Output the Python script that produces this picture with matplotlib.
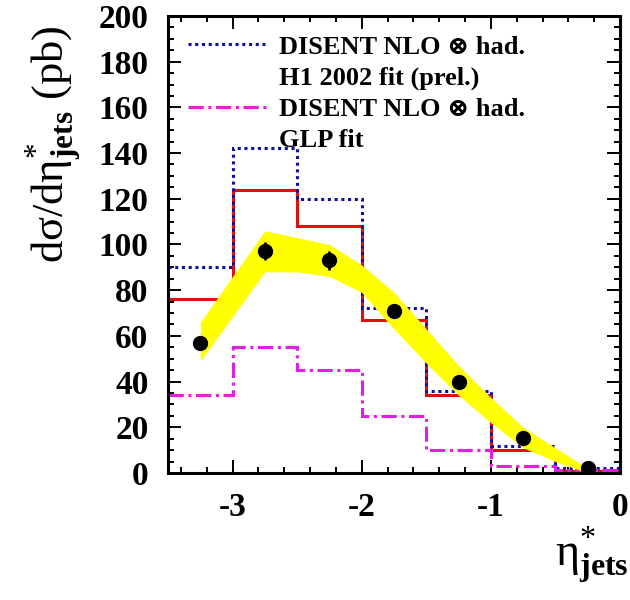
import numpy as np
import matplotlib
matplotlib.use('Agg')
import matplotlib.pyplot as plt
from matplotlib.lines import Line2D
from matplotlib.ticker import MultipleLocator

# ---------------- dados ----------------
bin_edges = [-3.5, -3.0, -2.5, -2.0, -1.5, -1.0, -0.5, 0.0]
red_hist = [76, 124, 108, 67, 34, 10, 1]          # linha vermelha cheia
h1fit_hist = [90, 142, 120, 72, 36, 12, 2]        # DISENT NLO x had., H1 2002 fit
glpfit_hist = [34, 55, 45, 25, 10, 3, 1.5]        # DISENT NLO x had., GLP fit

eta_pts = [-3.25, -2.75, -2.25, -1.75, -1.25, -0.75, -0.25]
dsig_pts = [57, 97, 93, 71, 40, 15.5, 2]
dsig_err = [3, 4, 4, 3, 2, 1.5, 1]

band_eta = [-3.25, -2.75, -2.5, -2.25, -2.0, -1.75, -1.5, -1.25, -1.0, -0.75, -0.5, -0.25]
band_lo = [49, 88, 88, 86, 79, 63, 48, 34, 22, 11, 5, 0]
band_hi = [66, 106, 103, 100, 91, 79, 63, 47, 33, 20, 11, 2]

yticks = [0, 20, 40, 60, 80, 100, 120, 140, 160, 180, 200]
xticks = [-3, -2, -1, 0]

# ---------------- estilo ----------------
plt.rcParams['font.family'] = ['Liberation Serif', 'DejaVu Serif']
plt.rcParams['mathtext.fontset'] = 'custom'
plt.rcParams['mathtext.rm'] = 'Liberation Serif'
plt.rcParams['mathtext.it'] = 'Liberation Serif:italic'
plt.rcParams['mathtext.bf'] = 'Liberation Serif:bold'
plt.rcParams['axes.unicode_minus'] = False

fig = plt.figure(figsize=(6.3, 6.0), dpi=100)
ax = fig.add_axes([0.2667, 0.2117, 0.7175, 0.7617])

ax.stairs(red_hist, bin_edges, baseline=None, color='#e01010', lw=2.2, zorder=2)
ax.stairs(h1fit_hist, bin_edges, baseline=None, color='#1010a0', lw=2.2,
          linestyle=(0, (1, 1.2)), zorder=2)
ax.stairs(glpfit_hist, bin_edges, baseline=None, color='#e020e0', lw=2.2,
          linestyle=(0, (5, 1.5, 1, 1.5)), zorder=2)

ax.fill_between(band_eta, band_lo, band_hi, color='#ffff00', lw=0, zorder=3)

ax.errorbar(eta_pts, dsig_pts, yerr=dsig_err, fmt='o', color='black', ms=10,
            elinewidth=2, capsize=0, zorder=5)

ax.set_xlim(-3.5, 0)
ax.set_ylim(0, 200)
ax.set_xticks(xticks)
ax.set_yticks(yticks)
ax.xaxis.set_minor_locator(MultipleLocator(0.2))
ax.yaxis.set_minor_locator(MultipleLocator(5))
ax.tick_params(which='both', direction='in', top=True, right=True, width=1.4)
ax.tick_params(which='major', length=9.5)
ax.tick_params(which='minor', length=4.5)
ax.tick_params(axis='y', pad=14)
ax.tick_params(axis='x', pad=14)
for lab in ax.get_xticklabels() + ax.get_yticklabels():
    lab.set_fontsize(24)
    lab.set_fontweight('bold')
for s in ax.spines.values():
    s.set_linewidth(2.2)

ax.set_ylabel('dσ/dη$^{*}_{\\mathbf{jets}}$ (pb)', fontsize=32, loc='top')
ax.yaxis.set_label_coords(-0.185, 0.98)
ax.set_xlabel('η$^{*}_{\\mathbf{jets}}$', fontsize=33, loc='right')
ax.xaxis.set_label_coords(1.02, -0.112)
ax.xaxis.label.set_verticalalignment('top')

handles = [Line2D([], [], color='#1010a0', lw=2.2, linestyle=(0, (1, 1.2))),
           Line2D([], [], color='none'),
           Line2D([], [], color='#e020e0', lw=2.2, linestyle=(0, (5, 1.5, 1, 1.5))),
           Line2D([], [], color='none')]
labels = ['DISENT NLO ⊗ had.', 'H1 2002 fit (prel.)',
          'DISENT NLO ⊗ had.', 'GLP fit']
leg = ax.legend(handles, labels, loc='upper left', bbox_to_anchor=(0.045, 0.958),
                frameon=False, borderpad=0, borderaxespad=0, handlelength=3.0,
                handletextpad=0.45, labelspacing=0.28,
                prop={'family': ['Liberation Serif', 'DejaVu Serif'], 'weight': 'bold', 'size': 19})

plt.savefig('out.png', dpi=100)
